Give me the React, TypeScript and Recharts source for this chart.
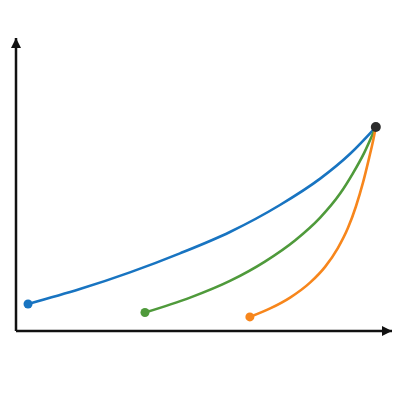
import { LineChart, Line, XAxis, YAxis, ReferenceDot } from 'recharts';

const BLUE = '#1874c1';
const GREEN = '#4f9a3b';
const ORANGE = '#f7861c';
const INK = '#111111';

// values, 0–100 on both axes
const blueX = [3.2, 17.0, 30.3, 43.6, 56.9, 70.2, 80.9, 88.8, 95.7];
const blueY = [9.2, 14.3, 20.0, 26.5, 33.8, 43.0, 52.0, 60.4, 69.6];

const greenX = [34.3, 46.3, 56.9, 66.2, 74.2, 80.9, 86.2, 89.6, 92.6, 95.7];
const greenY = [6.3, 11.4, 17.1, 23.7, 30.9, 38.7, 46.9, 53.8, 60.8, 69.6];

const orangeX = [62.2, 67.6, 72.9, 78.2, 82.2, 85.6, 88.3, 90.4, 92.3, 93.9, 95.0, 95.7];
const orangeY = [4.8, 7.7, 11.4, 16.5, 21.9, 28.3, 35.2, 42.5, 50.7, 59.0, 65.1, 69.6];

const endPoint = { x: 95.7, y: 69.6 };

const toRows = (xs: number[], ys: number[]) => xs.map((x, i) => ({ x, y: ys[i] }));

const blue = toRows(blueX, blueY);
const green = toRows(greenX, greenY);
const orange = toRows(orangeX, orangeY);

function startDot(color: string) {
  return (props: any) => {
    const { cx, cy, index } = props;
    if (index !== 0) return <g key={`d-${color}-${index}`} />;
    return <circle key={`d-${color}-${index}`} cx={cx} cy={cy} r={4.5} fill={color} />;
  };
}

export default function App() {
  return (
    <div style={{ position: 'absolute', left: 0, top: 0, width: 400, height: 400, background: '#fff' }}>
      <svg width={0} height={0} style={{ position: 'absolute' }}>
        <defs>
          <marker
            id="arrow"
            viewBox="0 0 10 10"
            refX={10}
            refY={5}
            markerWidth={10}
            markerHeight={10}
            markerUnits="userSpaceOnUse"
            orient="auto-start-reverse"
          >
            <path d="M0,0 L10,5 L0,10 z" fill={INK} />
          </marker>
        </defs>
      </svg>
      <LineChart width={400} height={400} margin={{ top: 38, right: 8, bottom: 68, left: 15 }}>
        <XAxis
          type="number"
          dataKey="x"
          domain={[0, 100]}
          height={1}
          tick={false}
          tickLine={false}
          axisLine={{ stroke: INK, strokeWidth: 2.5, markerEnd: 'url(#arrow)' }}
        />
        <YAxis
          type="number"
          dataKey="y"
          domain={[0, 100]}
          width={1}
          tick={false}
          tickLine={false}
          axisLine={{ stroke: INK, strokeWidth: 2.5, markerStart: 'url(#arrow)' }}
        />
        <Line
          data={blue}
          dataKey="y"
          type="monotone"
          stroke={BLUE}
          strokeWidth={2.6}
          dot={startDot(BLUE)}
          activeDot={false}
          isAnimationActive={false}
        />
        <Line
          data={green}
          dataKey="y"
          type="monotone"
          stroke={GREEN}
          strokeWidth={2.6}
          dot={startDot(GREEN)}
          activeDot={false}
          isAnimationActive={false}
        />
        <Line
          data={orange}
          dataKey="y"
          type="monotone"
          stroke={ORANGE}
          strokeWidth={2.6}
          dot={startDot(ORANGE)}
          activeDot={false}
          isAnimationActive={false}
        />
        <ReferenceDot x={endPoint.x} y={endPoint.y} r={5} fill="#2b2b2b" stroke="none" />
      </LineChart>
    </div>
  );
}
